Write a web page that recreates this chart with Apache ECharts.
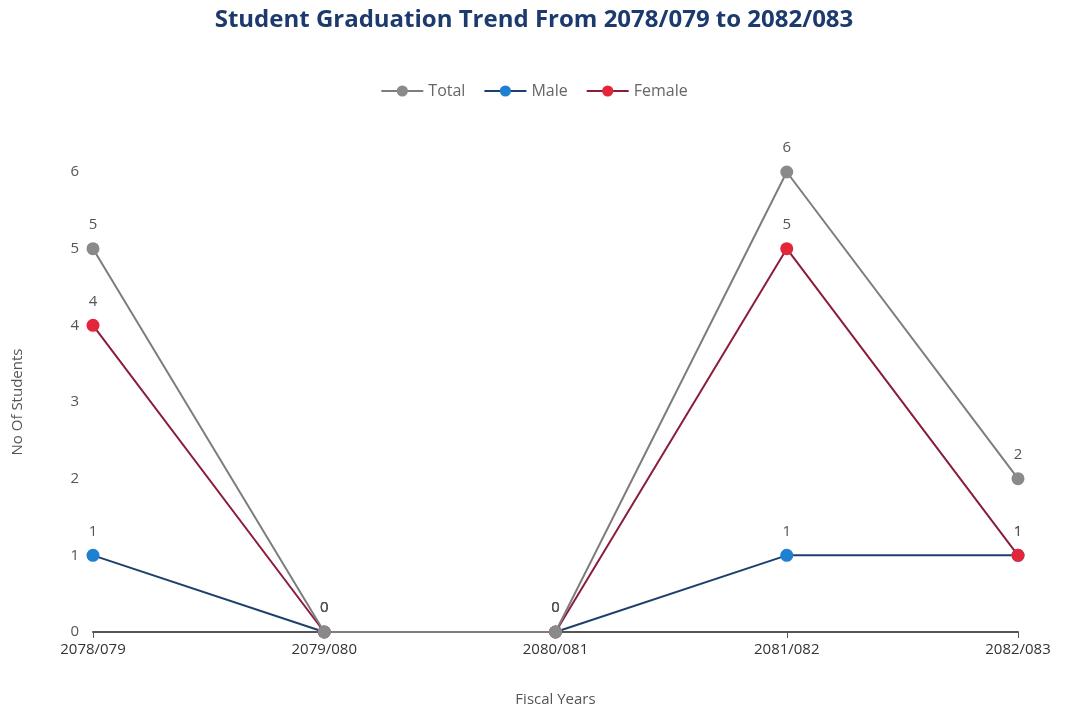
<!DOCTYPE html>
<html>
<head>
<meta charset="utf-8">
<script src="https://cdn.jsdelivr.net/npm/echarts@6/dist/echarts.min.js"></script>
<style>
  html, body { margin: 0; padding: 0; background: #fff; }
  #chart { width: 1068px; height: 712px; }
</style>
</head>
<body>
<div id="chart"></div>
<script>
const FONT_FAMILY = "'Open Sans', 'Noto Sans', sans-serif"

const fiscalYears = ['2078/079', '2079/080', '2080/081', '2081/082', '2082/083']
const totalStudents = [5, 0, 0, 6, 2]
const maleStudents = [1, 0, 0, 1, 1]
const femaleStudents = [4, 0, 0, 5, 1]

const COLORS = {
  title: '#1c3a6e',
  text: '#555',
  axis: '#555',
  total: '#8a8a8a',
  totalLine: '#7d7d7d',
  male: '#1f7fd0',
  maleLine: '#1d3f6e',
  female: '#e3263a',
  femaleLine: '#8a1d3a',
}

// total sits on top of the others where they meet at zero, female over male
function makeSeries(name, data, dot, line, z) {
  return {
    name,
    type: 'line',
    data,
    z,
    symbol: 'circle',
    symbolSize: 13,
    itemStyle: { color: dot },
    lineStyle: { color: line, width: 2 },
    label: {
      show: true,
      position: 'top',
      distance: 10,
      fontFamily: FONT_FAMILY,
      fontSize: 15,
      color: COLORS.text,
    },
  }
}

const chart = echarts.init(document.getElementById('chart'))
chart.setOption({
  animation: false,
  title: {
    text: 'Student Graduation Trend From 2078/079 to 2082/083',
    left: 'center',
    top: 3,
    textStyle: { fontFamily: FONT_FAMILY, fontSize: 24, fontWeight: 'bold', color: COLORS.title },
  },
  legend: {
    top: 78,
    left: 'center',
    itemWidth: 42,
    itemHeight: 14,
    itemGap: 18,
    textStyle: { fontFamily: FONT_FAMILY, fontSize: 16, color: '#666' },
  },
  grid: { left: 93, right: 50, top: 172, bottom: 80 },
  xAxis: {
    type: 'category',
    data: fiscalYears,
    boundaryGap: false,
    name: 'Fiscal Years',
    nameLocation: 'middle',
    nameGap: 60,
    nameTextStyle: { fontFamily: FONT_FAMILY, fontSize: 15, color: COLORS.text },
    axisLine: { lineStyle: { color: COLORS.axis, width: 2 } },
    axisTick: { show: true, alignWithLabel: true, length: 6, lineStyle: { color: COLORS.axis } },
    axisLabel: { fontFamily: FONT_FAMILY, fontSize: 15, color: '#333', margin: 10 },
  },
  yAxis: {
    type: 'value',
    min: 0,
    max: 6,
    interval: 1,
    name: 'No Of Students',
    nameLocation: 'middle',
    nameGap: 68,
    nameTextStyle: { fontFamily: FONT_FAMILY, fontSize: 15, color: COLORS.text },
    axisLine: { show: false },
    axisTick: { show: false },
    splitLine: { show: false },
    axisLabel: { fontFamily: FONT_FAMILY, fontSize: 15, color: COLORS.text, margin: 14 },
  },
  series: [
    makeSeries('Total', totalStudents, COLORS.total, COLORS.totalLine, 4),
    makeSeries('Male', maleStudents, COLORS.male, COLORS.maleLine, 2),
    makeSeries('Female', femaleStudents, COLORS.female, COLORS.femaleLine, 3),
  ],
})
</script>
</body>
</html>
